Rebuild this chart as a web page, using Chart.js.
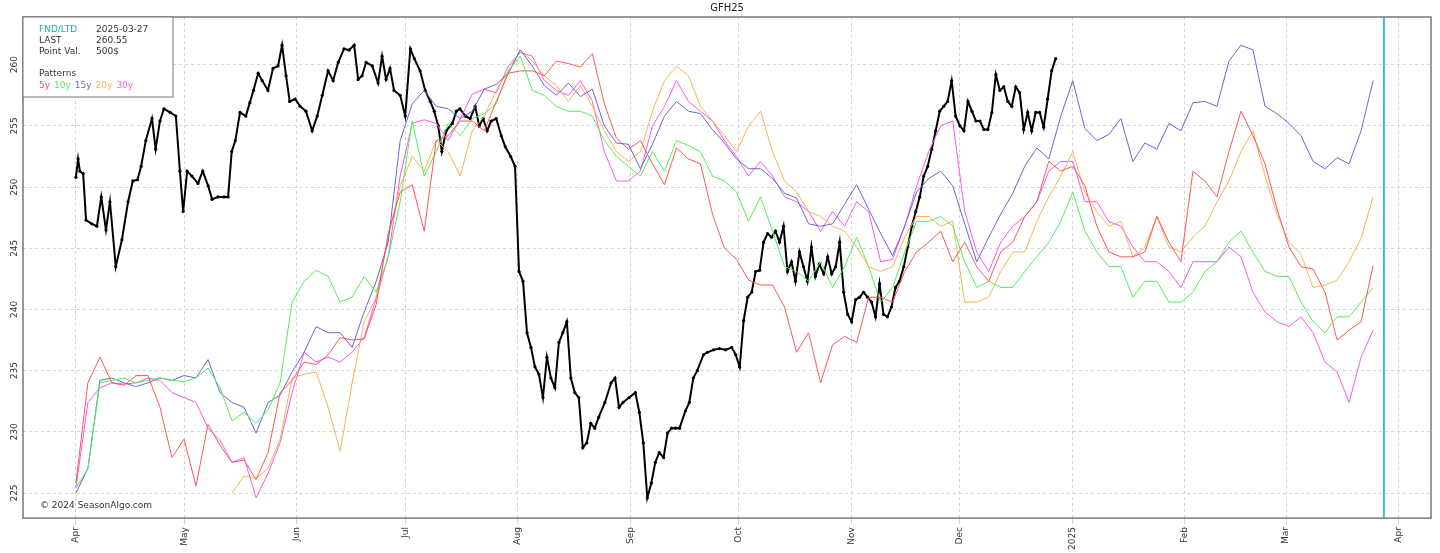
<!DOCTYPE html>
<html><head><meta charset="utf-8">
<script src="https://cdn.jsdelivr.net/npm/chart.js@4"></script>
<style>html,body{margin:0;padding:0;background:#fff}#w{width:1440px;height:553px}</style>
</head><body><div id="w"><canvas id="c"></canvas></div>
<script>
// x = days since 2024-04-01
const monthDays = [0,30,61,91,122,153,183,214,244,275,306,334,365];
const monthLabels = ['Apr','May','Jun','Jul','Aug','Sep','Oct','Nov','Dec','2025','Feb','Mar','Apr'];
const yTicks = [225,230,235,240,245,250,255,260];
const fndDay = 361;
const patternStep = 3.315; // days between pattern samples
const lastPriceDays = [0,0.6,1.1,2,2.8,4.4,5.8,7,8.3,9.4,11,12.7,14.4,15.7,17,18,19.3,21,22,23.2,24.3,26,27.6,28.7,29.6,30.7,32,33.7,35,36.5,37.6,39.2,40.9,42,43,44,45.3,46.9,48,49,50.3,51.4,53,54.4,55.8,56.9,58,59,60.5,61.9,63.5,65.2,66.6,68,69.6,71,72.4,74,75.4,76.8,77.9,79,80.1,81.8,83.4,84.5,85.6,86.7,87.8,89.5,90.9,92.3,93.4,95,96.4,97.8,98.9,100,101,102.2,103.9,105,106,107.5,108.8,110.2,111.3,112.4,113.5,114.6,116,117.4,118.5,120,121.2,122.3,123.4,124.5,125.6,126.7,127.8,128.9,130,131.1,132.2,133.3,134.4,135.5,136.6,137.7,138.8,139.9,141,142.1,143.2,144.3,146,147.7,148.8,149.9,151,152.7,154.4,155.5,156.6,157.7,158.8,159.9,161,162.2,163.3,164.4,165.5,166.6,168.2,169.3,170.4,171.5,173.2,174.3,176,177.6,179.3,181,182.1,183.2,184.3,185.4,186.5,187.6,188.7,189.8,190.9,192,193.1,194.2,195.3,196.4,197.5,198.6,199.7,200.8,201.9,203,204.1,205.2,206.4,207.5,208.6,209.7,210.8,211.9,213,214.1,215.2,216.3,217.4,218.5,219.6,220.7,221.8,222.9,224,225.1,226.2,227.3,228.5,229.6,230.7,231.8,232.9,234,235.1,236.2,237.3,238.4,239.5,240.6,241.7,242.8,244,245.1,246.2,247.3,248.4,249.5,250.6,251.7,252.8,253.9,255,256.1,257.2,258.3,259.4,260.5,261.6,262.7,263.8,264.9,266,267.1,268.2,269.3,270.4];
const lastPrice = [250.8,252.3,251.3,251.1,247.3,247.0,246.8,249.2,246.5,248.8,243.5,245.7,248.8,250.5,250.6,251.7,253.8,255.6,253.1,255.4,256.4,256.1,255.8,251.3,248.0,251.3,250.9,250.3,251.3,250.1,249.0,249.2,249.2,249.2,252.9,253.8,256.1,255.8,256.9,257.9,259.3,258.7,257.9,259.7,259.9,261.6,259.1,257.0,257.2,256.6,256.2,254.6,255.8,257.5,259.5,258.7,260.2,261.3,261.2,261.6,258.8,259.1,260.2,259.9,258.5,260.7,258.8,259.7,257.9,257.5,255.8,261.3,260.5,259.5,257.9,257.0,256.2,255.0,252.9,254.6,255.2,256.2,256.4,255.8,255.6,256.6,255.0,255.6,254.6,255.4,255.6,254.2,253.3,252.5,251.7,243.1,242.3,238.1,236.9,235.3,234.7,232.8,236.1,234.4,233.6,237.3,238.1,239.0,234.4,233.2,232.8,228.7,229.1,230.7,230.3,231.2,232.4,234.0,234.4,232.0,232.4,232.8,233.2,231.6,229.1,224.6,225.8,227.5,228.3,227.9,229.9,230.3,230.3,230.3,231.7,232.4,234.4,235.0,236.3,236.5,236.7,236.8,236.7,236.9,236.3,235.3,239.1,241.0,241.4,243.1,243.2,245.5,246.2,245.9,246.4,245.5,246.8,243.1,243.9,242.3,244.7,243.5,242.3,245.1,242.7,243.7,242.9,244.3,242.9,243.5,245.5,241.4,239.6,239.0,240.8,241.0,241.4,241.0,240.6,239.4,242.1,239.6,239.4,240.2,241.8,242.3,243.5,245.1,246.8,248.0,249.2,250.9,251.7,253.1,254.6,256.2,256.6,257.0,258.7,255.8,255.0,254.6,257.0,256.2,255.4,255.4,254.7,254.7,256.1,259.2,257.9,258.2,257.0,256.6,258.2,257.7,254.7,256.1,254.6,256.1,256.1,254.9,257.2,259.5,260.5];
const p5y = [225.8,234.0,236.1,234.0,233.8,234.6,234.6,232.0,227.9,229.4,225.6,230.6,228.9,227.5,227.7,226.1,228.3,233.2,234.2,235.7,235.5,236.3,237.7,237.5,237.6,240.4,246.2,249.6,250.2,246.4,253.8,254.2,255.4,255.4,254.6,257.0,259.3,259.5,259.5,259.1,260.3,260.1,259.8,260.9,256.8,254.0,253.1,253.8,251.9,250.2,253.2,252.3,251.9,247.8,245.0,244.1,242.4,242.0,242.0,240.2,236.5,238.1,234.0,237.1,237.8,237.3,241.0,241.0,240.6,243.1,244.7,245.5,246.4,243.9,245.5,243.5,242.3,244.7,245.5,247.6,248.8,252.1,251.3,251.7,250.1,246.8,244.7,244.3,244.3,244.7,247.6,245.5,243.9,251.3,250.5,249.2,252.9,256.2,254.2,251.9,248.2,245.1,243.5,243.3,241.4,237.5,238.3,239.0,243.6];
const p10y = [225.4,227.0,234.0,234.2,234.4,234.0,234.2,234.4,234.2,234.1,234.4,235.2,233.6,230.9,231.6,230.7,231.8,234.0,240.6,242.3,243.2,242.7,240.6,241.0,242.7,241.4,244.3,248.8,255.4,250.9,252.9,255.2,254.2,255.6,256.0,256.8,259.5,260.7,257.9,257.5,256.6,256.2,256.2,255.8,253.8,252.5,251.7,250.9,252.9,251.3,253.8,253.4,252.9,250.9,250.5,249.6,247.2,249.2,246.4,243.5,243.1,242.3,243.9,241.8,243.5,245.9,243.5,240.6,241.8,244.7,247.2,247.2,247.6,246.8,243.9,241.8,242.3,241.8,241.8,243.1,244.3,245.5,247.2,249.6,246.4,244.7,243.5,243.5,241.0,242.3,242.3,240.6,240.6,241.4,243.1,243.9,245.5,246.4,244.7,243.1,242.7,242.7,240.6,239.0,238.1,239.4,239.4,240.6,241.8];
const p15y = [225.0,227.0,234.2,234.4,234.0,233.7,234.0,234.4,234.2,234.6,234.4,235.9,233.2,232.4,232.0,229.9,232.4,233.0,234.9,236.5,238.6,238.1,238.1,236.9,239.8,242.3,245.5,253.8,256.8,257.9,256.6,256.4,255.6,256.2,258.0,258.4,259.3,261.2,259.9,258.3,257.5,258.5,257.4,258.0,255.0,253.6,253.5,251.5,253.5,255.8,257.0,256.2,256.0,254.7,253.6,252.3,251.5,251.5,250.7,249.5,249.1,247.0,246.8,247.0,248.6,250.2,248.2,246.2,244.4,246.8,249.6,250.7,251.3,250.1,247.0,243.9,245.9,247.8,249.5,251.7,253.2,252.3,255.8,258.7,254.8,253.8,254.3,255.6,252.1,253.6,253.1,255.2,254.6,256.9,257.0,256.6,260.3,261.6,261.2,256.6,256.0,255.2,254.2,252.1,251.5,252.4,251.9,254.6,258.7];
const p20y = [null,null,null,null,null,null,null,null,null,null,null,null,null,225.0,226.4,226.2,227.0,229.4,234.4,234.7,234.9,232.0,228.4,234.0,239.0,241.0,245.9,250.1,252.5,251.3,253.8,252.9,250.9,254.6,255.8,257.9,259.5,261.2,260.3,259.1,258.3,257.0,258.3,256.6,254.6,252.9,252.1,252.9,256.2,258.7,259.9,259.1,256.6,255.4,254.2,252.9,255.0,256.2,252.9,250.5,249.6,248.0,247.6,246.8,246.4,245.1,243.5,243.1,243.5,245.9,247.6,247.6,246.8,247.2,240.6,240.6,241.0,243.1,244.7,244.7,247.2,249.2,250.9,252.9,249.6,248.0,246.8,247.2,244.3,245.1,247.6,245.1,244.7,245.9,246.8,248.8,250.5,252.9,254.6,250.9,247.8,245.5,244.5,241.8,242.0,242.4,243.9,245.8,249.2];
const p30y = [225.4,232.4,233.6,234.0,233.9,234.0,234.4,234.2,233.2,232.8,232.4,230.3,229.3,227.5,227.9,224.6,226.6,229.1,233.2,236.5,235.7,236.1,235.7,236.5,237.7,240.9,244.3,250.9,255.2,255.5,255.2,253.8,255.6,257.6,258.0,257.7,259.9,261.0,260.7,258.7,257.9,257.5,258.7,257.0,252.9,250.5,250.5,251.3,255.0,256.6,258.7,257.0,256.2,255.4,253.8,252.5,250.9,252.1,250.9,249.2,248.8,248.0,246.4,248.0,246.8,248.8,248.0,243.9,244.1,246.8,250.1,252.9,255.0,255.4,248.0,244.7,243.1,245.5,246.8,247.6,248.8,251.3,252.1,252.1,248.8,248.8,247.2,246.8,245.1,243.9,243.9,243.1,241.8,243.9,243.9,243.9,245.1,244.3,241.4,239.8,239.0,238.6,239.4,238.1,235.7,234.9,232.4,236.1,238.3];

const toPts = arr => arr.map((v,i)=>({x:i*patternStep,y:v}));
const ds = (label,data,color)=>({label,data:toPts(data),borderColor:color,borderWidth:1,pointRadius:0,tension:0,spanGaps:false});

const overlay = {
  id:'overlay',
  afterDraw(chart){
    const {ctx,chartArea:a,scales:{x,y}} = chart;
    ctx.save();
    // y labels rotated
    ctx.fillStyle='#333';ctx.font='9px "DejaVu Sans"';ctx.textAlign='center';ctx.textBaseline='middle';
    yTicks.forEach(t=>{const py=y.getPixelForValue(t);ctx.save();ctx.translate(a.left-8,py);ctx.rotate(-Math.PI/2);ctx.fillText(String(t),0,0);ctx.restore();});
    // border
    ctx.strokeStyle='#777';ctx.lineWidth=1.5;ctx.strokeRect(a.left,a.top,a.right-a.left,a.bottom-a.top);
    // info box
    const bx=a.left, by=a.top, bw=150, bh=80;
    ctx.fillStyle='#fff';ctx.fillRect(bx,by,bw,bh);ctx.strokeStyle='#777';ctx.lineWidth=1;ctx.strokeRect(bx,by,bw,bh);
    ctx.textAlign='left';ctx.textBaseline='alphabetic';ctx.font='9px "DejaVu Sans"';
    ctx.fillStyle='#20b2a0';ctx.fillText('FND/LTD',39,32);
    ctx.fillStyle='#333';ctx.fillText('2025-03-27',96,32);
    ctx.fillText('LAST',39,43);ctx.fillText('260.55',96,43);
    ctx.fillText('Point Val.',39,54);ctx.fillText('500$',96,54);
    ctx.fillText('Patterns',39,76);
    const pl=[['5y','#ff5555'],['10y','#55ee55'],['15y','#6666dd'],['20y','#ffb050'],['30y','#ff55ee']];
    let px=39;pl.forEach(([t,c])=>{ctx.fillStyle=c;ctx.fillText(t,px,88);px+=ctx.measureText(t).width+4;});
    ctx.fillStyle='#333';ctx.fillText('© 2024 SeasonAlgo.com',40,508);
    ctx.restore();
  }
};

new Chart(document.getElementById('c'),{
  type:'line',
  data:{datasets:[
    ds('5y',p5y,'#ff5555'),ds('10y',p10y,'#55ee55'),ds('15y',p15y,'#6666dd'),ds('20y',p20y,'#ffb050'),ds('30y',p30y,'#ff55ee'),
    {label:'LAST',data:lastPriceDays.map((d,i)=>({x:d,y:lastPrice[i]})),borderColor:'#000',backgroundColor:'#000',borderWidth:2,pointRadius:1.6,pointBorderWidth:0,tension:0},
    {label:'FND',data:[{x:fndDay,y:222.95},{x:fndDay,y:263.9}],borderColor:'#40c0b0',borderWidth:2,pointRadius:0}
  ]},
  options:{
    responsive:true,maintainAspectRatio:false,animation:false,
    layout:{padding:{left:23,right:9,top:0,bottom:0}},
    plugins:{legend:{display:false},tooltip:{enabled:false},
      title:{display:true,text:'GFH25',color:'#222',font:{family:'DejaVu Sans',size:10,weight:'normal'},padding:{top:2,bottom:3}}},
    scales:{
      x:{type:'linear',min:-14.6,max:374,
        afterBuildTicks:s=>{s.ticks=monthDays.map(v=>({value:v}));},
        ticks:{autoSkip:false,minRotation:90,maxRotation:90,color:'#333',font:{family:'DejaVu Sans',size:9},
          callback:(v)=>{const i=monthDays.indexOf(v);return i>=0?monthLabels[i]:'';}},
        grid:{color:'#d4d4d4',borderDash:[3,3],tickLength:6,drawTicks:true},border:{dash:[3,3],display:false}},
      y:{min:222.95,max:263.9,
        afterBuildTicks:s=>{s.ticks=yTicks.map(v=>({value:v}));},
        ticks:{display:false},afterFit:s=>{s.width=0;},
        grid:{color:'#d4d4d4',tickLength:0},border:{dash:[3,3],display:false}}
    }
  },
  plugins:[overlay]
});
</script></body></html>
